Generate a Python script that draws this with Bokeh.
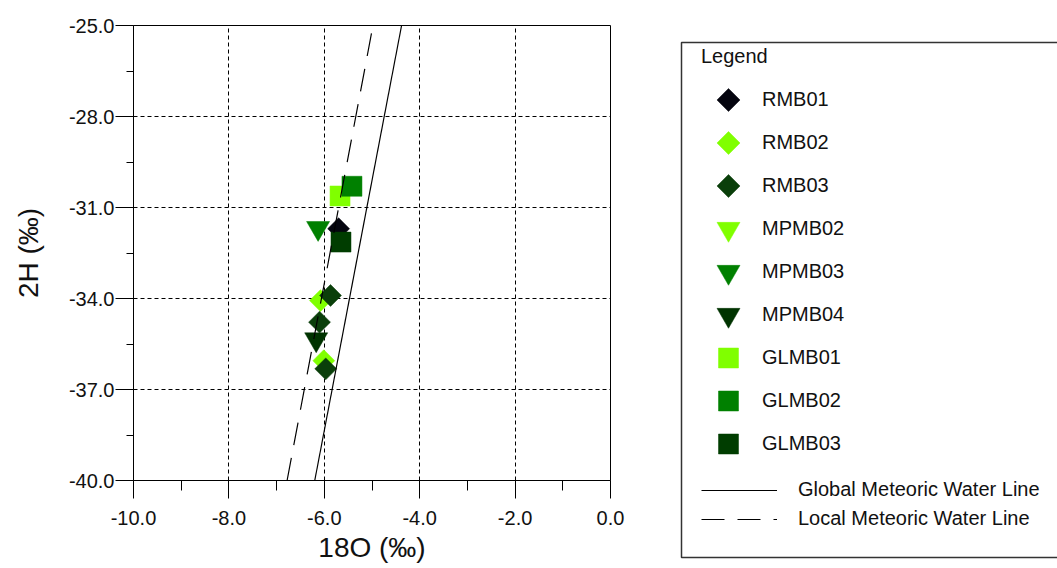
import numpy as np
from bokeh.plotting import figure
from bokeh.models import Range1d, FixedTicker, NumeralTickFormatter, Legend, LegendItem, BoxAnnotation
from bokeh.layouts import row
from bokeh.embed import file_html
from bokeh.resources import INLINE

FONT = "Liberation Sans"

# ---- axis ticks ----
x_ticks = [-10, -8, -6, -4, -2, 0]
x_minor = [-9, -7, -5, -3, -1]
y_ticks = [-40, -37, -34, -31, -28, -25]
y_minor = [-38.5, -35.5, -32.5, -29.5, -26.5]

# ---- series data (18O, 2H) ----
rmb01_x = [-5.70]
rmb01_y = [-31.70]
rmb02_x = [-6.08, -6.01]
rmb02_y = [-34.07, -36.05]
rmb03_x = [-5.87, -6.10, -5.97]
rmb03_y = [-33.90, -34.78, -36.32]
mpmb02_x = [-6.08]          # hidden under other markers in the chart
mpmb02_y = [-34.07]
mpmb03_x = [-6.13]
mpmb03_y = [-31.68]
mpmb04_x = [-6.17]
mpmb04_y = [-35.35]
glmb01_x = [-5.67]
glmb01_y = [-30.62]
glmb02_x = [-5.42]
glmb02_y = [-30.30]
glmb03_x = [-5.65]
glmb03_y = [-32.14]

# meteoric water lines
gmwl_x = [-6.20, -4.38]
gmwl_y = [-40.0, -25.0]
lmwl_x = [-6.78, -4.98]
lmwl_y = [-40.0, -25.0]

names = ["RMB01", "RMB02", "RMB03", "MPMB02", "MPMB03", "MPMB04", "GLMB01", "GLMB02", "GLMB03"]
xs = [rmb01_x, rmb02_x, rmb03_x, mpmb02_x, mpmb03_x, mpmb04_x, glmb01_x, glmb02_x, glmb03_x]
ys = [rmb01_y, rmb02_y, rmb03_y, mpmb02_y, mpmb03_y, mpmb04_y, glmb01_y, glmb02_y, glmb03_y]
colors = ["#05050f", "#80ff00", "#0a3f0a", "#80ff00", "#008000", "#003300", "#80ff00", "#008000", "#003d00"]
kinds = ["diamond", "diamond", "diamond", "tri", "tri", "tri", "square", "square", "square"]
shown = [True, True, True, False, True, True, True, True, True]

def marker_style(kind, legend=False):
    if kind == "diamond":
        return dict(marker="square", angle=np.pi / 4, size=16.3 if legend else 15.5)
    if kind == "tri":
        return dict(marker="inverted_triangle", angle=0.0, size=23)
    return dict(marker="square", angle=0.0, size=20)

p = figure(width=660, height=568, x_range=Range1d(-10, 0), y_range=Range1d(-40, -25),
           output_backend="svg", toolbar_location=None,
           min_border_left=133, min_border_right=50, min_border_top=25, min_border_bottom=88)
p.frame_align = False
p.background_fill_color = "white"
p.border_fill_color = "white"
p.outline_line_color = "black"
p.outline_line_width = 1

for ax, tk, mn in ((p.xaxis, x_ticks, x_minor), (p.yaxis, y_ticks, y_minor)):
    ax.ticker = FixedTicker(ticks=tk, minor_ticks=mn)
    ax.formatter = NumeralTickFormatter(format="0.0")
    ax.axis_line_color = "black"
    ax.major_tick_line_color = "black"
    ax.minor_tick_line_color = "black"
    ax.major_tick_in = 0
    ax.minor_tick_in = 0
    ax.major_label_text_font = FONT
    ax.major_label_text_font_size = "20px"
    ax.major_label_text_color = "#111111"
    ax.axis_label_text_font = FONT
    ax.axis_label_text_font_size = "28px"
    ax.axis_label_text_font_style = "normal"
    ax.axis_label_text_color = "#111111"

p.xaxis.major_tick_out = 18
p.xaxis.minor_tick_out = 10
p.xaxis.major_label_standoff = 12
p.xaxis.axis_label = "18O (‰)"
p.xaxis.axis_label_standoff = 4
p.yaxis.major_tick_out = 18
p.yaxis.minor_tick_out = 7
p.yaxis.major_label_standoff = 1
p.yaxis.axis_label = "2H (‰)"
p.yaxis.axis_label_standoff = 22

p.xgrid.ticker = FixedTicker(ticks=x_ticks)
p.ygrid.ticker = FixedTicker(ticks=y_ticks)
for g in (p.xgrid, p.ygrid):
    g.grid_line_color = "black"
    g.grid_line_dash = "4 3"
    g.grid_line_width = 1

for x, y, c, k, vis in zip(xs, ys, colors, kinds, shown):
    if vis:
        p.scatter(x=x, y=y, fill_color=c, line_color=c, line_width=0.5, **marker_style(k))

p.line(gmwl_x, gmwl_y, line_color="black", line_width=1.2)
p.line(lmwl_x, lmwl_y, line_color="black", line_width=1.2, line_dash="23 13")

# ---- legend panel (own canvas, pixel ranges; series sit outside its view) ----
LW, LH = 397, 568
lg = figure(width=LW, height=LH, x_range=Range1d(0, LW), y_range=Range1d(LH, 0),
            output_backend="svg", toolbar_location=None,
            x_axis_location=None, y_axis_location=None,
            min_border_left=0, min_border_right=0, min_border_top=0, min_border_bottom=0)
lg.frame_align = False
lg.grid.visible = False
lg.outline_line_color = None
lg.background_fill_color = "white"
lg.border_fill_color = "white"

box = BoxAnnotation(left=21, right=440, top=42, bottom=557,
                    left_units="canvas", right_units="canvas", top_units="canvas", bottom_units="canvas",
                    fill_alpha=0, line_color="#333333", line_alpha=1.0, line_width=1.5)
lg.add_layout(box)

# legend layout constants
L1_X, L1_Y = 41, 103          # legend 1 bottom-left offset in the panel
TITLE_H, TITLE_GAP, PITCH, GLYPH_W = 23, 10, 43, 54
N = len(names)
l1_top = LH - L1_Y - (TITLE_H + TITLE_GAP + PITCH * N)

# Bokeh scales every legend marker to one size and never rotates it, so the item
# glyphs are left blank and each legend symbol is drawn at its item's position.
items = []
for i, (n, x, y, c, k) in enumerate(zip(names, xs, ys, colors, kinds)):
    r = lg.scatter(x=x, y=y, marker="square", size=10, fill_alpha=0, line_alpha=0)
    items.append(LegendItem(label=n, renderers=[r]))
    cy = l1_top + TITLE_H + TITLE_GAP + PITCH * i + PITCH / 2
    lg.scatter(x=[L1_X + GLYPH_W / 2], y=[cy], fill_color=c, line_color=c, line_width=0.5,
               **marker_style(k, legend=True))

rg = lg.line(gmwl_x, gmwl_y, line_color="black", line_width=1.2)
rl = lg.line(lmwl_x, lmwl_y, line_color="black", line_width=1.2, line_dash="23 13")

leg1 = Legend(items=items, title="Legend", location=(L1_X, L1_Y),
              title_text_font=FONT, title_text_font_size="20px", title_text_font_style="normal",
              title_text_color="#111111", title_standoff=TITLE_GAP,
              label_text_font=FONT, label_text_font_size="20px", label_text_color="#111111",
              glyph_width=GLYPH_W, glyph_height=PITCH, label_height=PITCH, spacing=0, label_standoff=7,
              padding=0, margin=0, border_line_color=None, background_fill_alpha=0)
lg.add_layout(leg1)

leg2 = Legend(items=[LegendItem(label="Global Meteoric Water Line", renderers=[rg]),
                     LegendItem(label="Local Meteoric Water Line", renderers=[rl])],
              location=(41, 38),
              label_text_font=FONT, label_text_font_size="20px", label_text_color="#111111",
              glyph_width=76, glyph_height=20, label_height=20, spacing=6, label_standoff=21,
              padding=0, margin=0, border_line_color=None, background_fill_alpha=0)
lg.add_layout(leg2)

layout = row(p, lg)
open("out.html", "w").write(file_html(layout, INLINE))
